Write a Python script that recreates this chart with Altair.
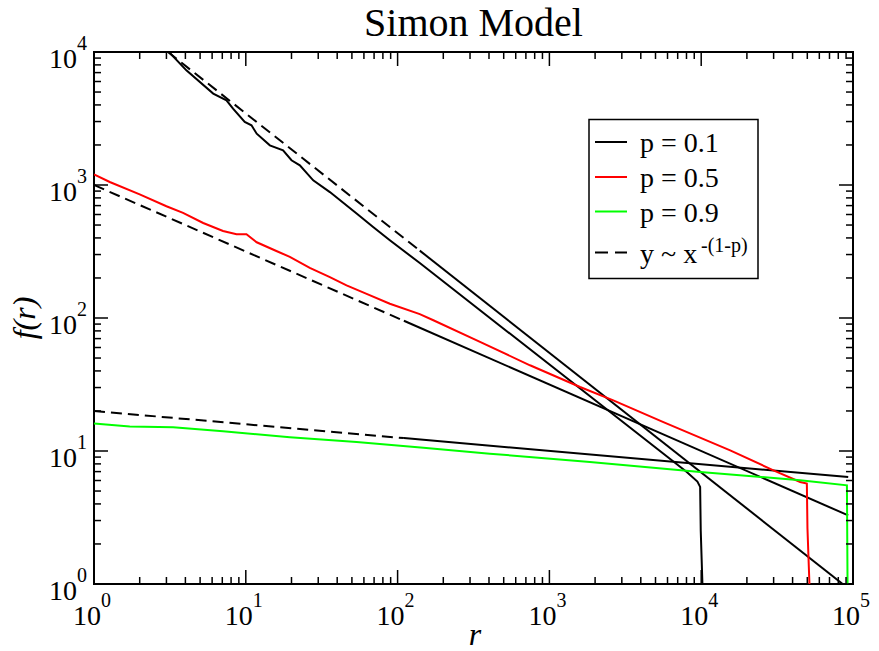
import altair as alt
import pandas as pd

# ---------------- data ----------------
# simulation curves f(r)
p01_r = [3.12, 4.06, 6.10, 7.46, 8.24, 9.84, 10.9, 11.8, 14.4, 17.6, 20.0, 22.7, 27.8,
         35.8, 53.7, 69.0, 88.9, 140, 8035, 9441, 9840, 9931, 10186]
p01_f = [10000, 7278, 4864, 4335, 3750, 2979, 2812, 2432, 1986, 1824, 1535, 1406, 1084,
         885, 610, 483, 384, 259, 6.95, 5.89, 5.37, 2.51, 1.0]

p05_r = [1, 1.27, 2.0, 3.0, 3.86, 5.24, 7.08, 8.69, 10.1, 11.8, 15.9, 19.5, 26.4, 35.8,
         46.1, 62.5, 88.9, 140, 172, 349, 745, 1592, 2636, 5636, 15520, 29920, 44870,
         49660, 50120, 51640]
p05_f = [1202, 1054, 851, 692, 617, 518, 451, 426, 426, 371, 319, 288, 238, 203,
         176, 152, 128, 107, 96.2, 66.1, 44.1, 30.3, 24.0, 16.5, 10.1, 7.16, 5.85,
         5.69, 2.61, 1.0]

p09_r = [1, 1.72, 3.32, 7.08, 19.5, 53.7, 148, 405, 1849, 9840, 44870, 91200, 92040]
p09_f = [16.1, 15.3, 15.1, 14.1, 12.7, 11.7, 10.6, 9.55, 8.26, 6.95, 6.03, 5.52, 1.0]

# reference power laws y ~ x^-(1-p): start, end of visible dashes, end
fit01_r = [3.07, 140, 85500]
fit01_f = [10000, 321, 1.0]
fit05_r = [1, 110, 93000]
fit05_f = [1000, 95.3, 3.28]
fit09_r = [1, 110, 93000]
fit09_f = [20, 12.5, 6.37]

series_names = ["p = 0.1", "p = 0.5", "p = 0.9"]
series_colors = ["#000000", "#ff0000", "#00ff00"]

x_major = [1, 10, 100, 1000, 10000, 100000]
x_exp = ["0", "1", "2", "3", "4", "5"]
y_major = [1, 10, 100, 1000, 10000]
y_exp = ["0", "1", "2", "3", "4"]
minor_mult = [2, 3, 4, 5, 6, 7, 8, 9]

# ---------------- layout ----------------
W, H = 759, 532
SERIF = "Liberation Serif, Times New Roman, Times, DejaVu Serif, serif"
MAJ, MIN = 14, 7

xs = alt.Scale(type="log", domain=[1, 100000], nice=False)
ys = alt.Scale(type="log", domain=[1, 10000], nice=False)

rows = []
for name, rr, ff in zip(series_names, [p01_r, p05_r, p09_r], [p01_f, p05_f, p09_f]):
    for i, (a, b) in enumerate(zip(rr, ff)):
        rows.append({"series": name, "r": a, "f": b, "i": i})
sim = pd.DataFrame(rows)

dash_rows, solid_rows = [], []
for name, rr, ff in zip(series_names, [fit01_r, fit05_r, fit09_r], [fit01_f, fit05_f, fit09_f]):
    dash_rows += [{"g": name, "r": rr[0], "f": ff[0], "i": 0}, {"g": name, "r": rr[1], "f": ff[1], "i": 1}]
    solid_rows += [{"g": name, "r": rr[1], "f": ff[1], "i": 0}, {"g": name, "r": rr[2], "f": ff[2], "i": 1}]
fit_dash = pd.DataFrame(dash_rows)
fit_solid = pd.DataFrame(solid_rows)

X = lambda f: alt.X(f, scale=xs, axis=None)
Y = lambda f: alt.Y(f, scale=ys, axis=None)

layers = []

sim_layer = alt.Chart(sim).mark_line(strokeWidth=2, clip=True).encode(
    x=X("r:Q"), y=Y("f:Q"),
    color=alt.Color("series:N", scale=alt.Scale(domain=series_names, range=series_colors), legend=None),
    detail="series:N",
    order="i:Q",
)
fit_d = alt.Chart(fit_dash).mark_line(strokeWidth=2, color="black", strokeDash=[11, 6], clip=True).encode(
    x=X("r:Q"), y=Y("f:Q"), detail="g:N", order="i:Q")
fit_s = alt.Chart(fit_solid).mark_line(strokeWidth=2, color="black", clip=True).encode(
    x=X("r:Q"), y=Y("f:Q"), detail="g:N", order="i:Q")
layers += [fit_d, fit_s, sim_layer]

# ---------------- inward ticks on all four sides ----------------
x_minor = [m * d for d in x_major[:-1] for m in minor_mult]
y_minor = [m * d for d in y_major[:-1] for m in minor_mult]
xt_maj = pd.DataFrame({"v": x_major})
xt_min = pd.DataFrame({"v": x_minor})
yt_maj = pd.DataFrame({"v": y_major})
yt_min = pd.DataFrame({"v": y_minor})

for df, length in [(xt_maj, MAJ), (xt_min, MIN)]:
    base = alt.Chart(df).mark_rule(color="black", strokeWidth=1.5)
    layers.append(base.encode(x=X("v:Q"), y=alt.value(H), y2=alt.value(H - length)))
    layers.append(base.encode(x=X("v:Q"), y=alt.value(0), y2=alt.value(length)))
for df, length in [(yt_maj, MAJ), (yt_min, MIN)]:
    base = alt.Chart(df).mark_rule(color="black", strokeWidth=1.5)
    layers.append(base.encode(y=Y("v:Q"), x=alt.value(0), x2=alt.value(length)))
    layers.append(base.encode(y=Y("v:Q"), x=alt.value(W), x2=alt.value(W - length)))

# ---------------- tick labels 10^n ----------------
xl = pd.DataFrame({"v": x_major, "e": x_exp})
yl = pd.DataFrame({"v": y_major, "e": y_exp})
layers.append(alt.Chart(xl).mark_text(font=SERIF, fontSize=28, align="right", baseline="alphabetic",
                                      dx=7, color="black").encode(
    x=X("v:Q"), y=alt.value(H + 41), text=alt.value("10")))
layers.append(alt.Chart(xl).mark_text(font=SERIF, fontSize=20, align="left", baseline="alphabetic",
                                      dx=7, color="black").encode(
    x=X("v:Q"), y=alt.value(H + 23), text="e:N"))
layers.append(alt.Chart(yl).mark_text(font=SERIF, fontSize=28, align="right", baseline="alphabetic",
                                      dy=16, color="black").encode(
    y=Y("v:Q"), x=alt.value(-17), text=alt.value("10")))
layers.append(alt.Chart(yl).mark_text(font=SERIF, fontSize=20, align="left", baseline="alphabetic",
                                      dy=-2, color="black").encode(
    y=Y("v:Q"), x=alt.value(-17), text="e:N"))

# ---------------- titles ----------------
one = pd.DataFrame({"k": [0]})
layers.append(alt.Chart(one).mark_text(font=SERIF, fontSize=40, align="center", baseline="alphabetic",
                                       color="black").encode(
    x=alt.value(W / 2), y=alt.value(-16), text=alt.value("Simon Model")))
layers.append(alt.Chart(one).mark_text(font=SERIF, fontSize=32, fontStyle="italic", align="center",
                                       baseline="alphabetic", color="black").encode(
    x=alt.value(381), y=alt.value(593), text=alt.value("r")))
layers.append(alt.Chart(one).mark_text(font=SERIF, fontSize=32, fontStyle="italic", align="center",
                                       baseline="middle", angle=270, color="black").encode(
    x=alt.value(-69), y=alt.value(266), text=alt.value("f(r)")))

# ---------------- legend box ----------------
layers.append(alt.Chart(one).mark_rect(fill="white", stroke="black", strokeWidth=1.5).encode(
    x=alt.value(495), x2=alt.value(664), y=alt.value(67.5), y2=alt.value(226.5)))
leg_y = [90, 125, 159.5, 200.5]
leg_labels = series_names + ["y ~ x"]
leg_colors = series_colors + ["#000000"]
for k in range(4):
    mk = dict(color=leg_colors[k], strokeWidth=2)
    if k == 3:
        mk["strokeDash"] = [13, 7]
    layers.append(alt.Chart(one).mark_rule(**mk).encode(
        x=alt.value(501), x2=alt.value(533), y=alt.value(leg_y[k])))
    layers.append(alt.Chart(one).mark_text(font=SERIF, fontSize=28, align="left", baseline="alphabetic",
                                           color="black").encode(
        x=alt.value(546), y=alt.value(leg_y[k] + 10), text=alt.value(leg_labels[k])))
layers.append(alt.Chart(one).mark_text(font=SERIF, fontSize=20, align="left", baseline="alphabetic",
                                       color="black").encode(
    x=alt.value(607), y=alt.value(200), text=alt.value("-(1-p)")))

chart = alt.layer(*layers).properties(
    width=W, height=H,
    padding={"left": 94, "top": 52, "right": 26, "bottom": 67},
    autosize=alt.AutoSizeParams(type="none"),
    background="white",
).configure_view(stroke="black", strokeWidth=2)

chart.save("out.html", embed_options={"renderer": "svg", "actions": False})
